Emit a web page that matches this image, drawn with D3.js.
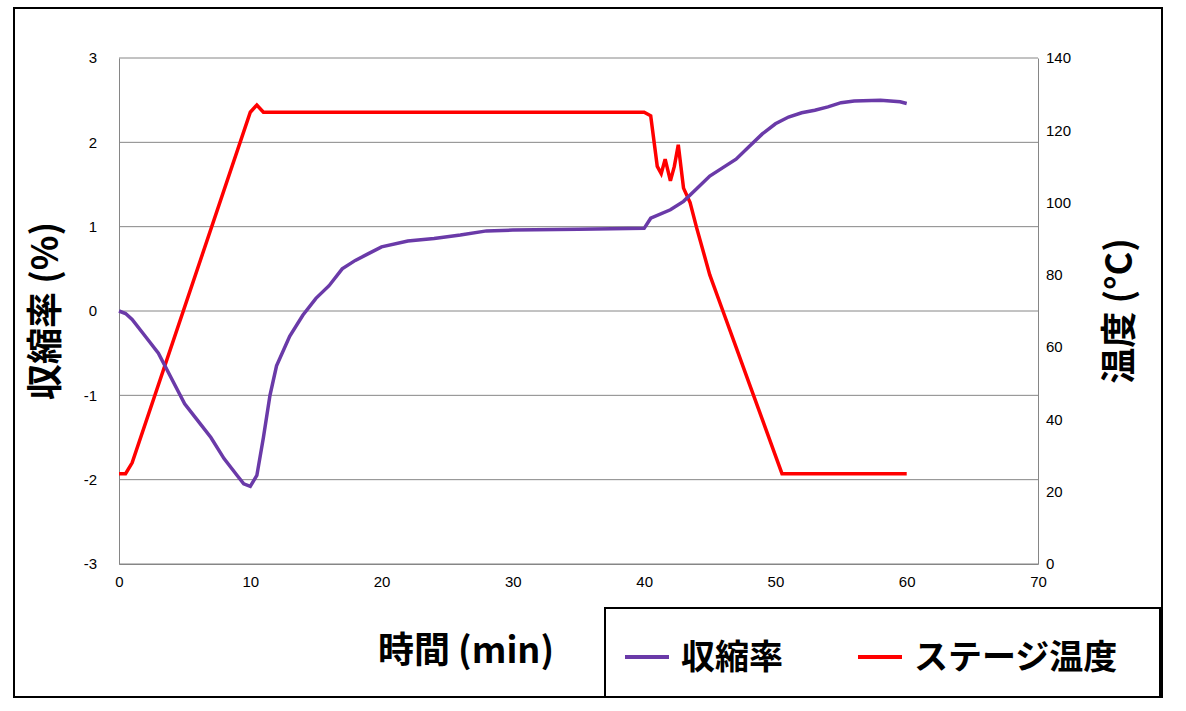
<!DOCTYPE html>
<html><head><meta charset="utf-8">
<script src="https://cdn.jsdelivr.net/npm/d3@7"></script>
<style>body{margin:0;background:#fff}svg{font-family:"Noto Sans CJK JP",Arial,sans-serif}</style>
</head><body><svg id="c" width="1186" height="711"></svg>
<script>
const xTicks = [0,10,20,30,40,50,60,70];
const yLeftTicks = [-3,-2,-1,0,1,2,3];
const yRightTicks = [0,20,40,60,80,100,120,140];

const shrinkT = [0,0.5,1,2,3,4,5,6,7,8,9,9.5,10,10.5,11,11.5,12,13,14,15,16,17,18,19,20,22,24,26,28,30,35,40,40.5,42,43,44,45,46,47,48,49,50,51,52,53,54,55,56,58,59.5,60];
const shrinkV = [0,-0.03,-0.1,-0.3,-0.5,-0.8,-1.1,-1.3,-1.5,-1.75,-1.95,-2.05,-2.08,-1.95,-1.5,-1.0,-0.65,-0.3,-0.05,0.15,0.3,0.5,0.6,0.68,0.76,0.83,0.86,0.9,0.95,0.96,0.97,0.98,1.1,1.2,1.3,1.45,1.6,1.7,1.8,1.95,2.1,2.22,2.3,2.35,2.38,2.42,2.47,2.49,2.5,2.48,2.46];

const tempT = [0,0.5,1,10,10.5,11,40,40.5,41,41.3,41.6,42,42.3,42.6,43,43.5,44,45,46,47,48,49,50,50.5,51,60];
const tempV = [25,25,28,125,127,125,125,124,110,108,112,106,110,116,104,100,93,80,70,60,50,40,30,25,25,25];

const svg = d3.select('#c');
svg.append('rect').attr('x',14).attr('y',8).attr('width',1148).attr('height',689).attr('fill','none').attr('stroke','#000').attr('stroke-width',2);

const x = d3.scaleLinear().domain([0,70]).range([119,1038]);
const yL = d3.scaleLinear().domain([-3,3]).range([564,58]);
const yR = d3.scaleLinear().domain([0,140]).range([564,58]);

// gridlines
svg.append('g').selectAll('line').data(yLeftTicks).join('line')
  .attr('x1',119).attr('x2',1038).attr('y1',d=>yL(d)).attr('y2',d=>yL(d))
  .attr('stroke','#868686').attr('stroke-width',1);

const fmt = d=>String(d);
const ax = svg.append('g').attr('transform','translate(0,564)').call(d3.axisBottom(x).tickValues(xTicks).tickFormat(fmt).tickSize(0).tickPadding(12));
const al = svg.append('g').attr('transform','translate(119,0)').call(d3.axisLeft(yL).tickValues(yLeftTicks).tickFormat(fmt).tickSize(0).tickPadding(22));
const ar = svg.append('g').attr('transform','translate(1038,0)').call(d3.axisRight(yR).tickValues(yRightTicks).tickFormat(fmt).tickSize(0).tickPadding(8));
[ax,al,ar].forEach(a=>{a.selectAll('text').attr('font-size',15).attr('fill','#000').attr('font-family','Arial,sans-serif');
  a.select('.domain').attr('stroke','#868686');});

const line = (xs,ys,yScale)=>d3.line().x((d,i)=>x(xs[i])).y((d,i)=>yScale(ys[i]));
svg.append('path').datum(tempV).attr('d',line(tempT,tempV,yR)).attr('fill','none').attr('stroke','#ff0000').attr('stroke-width',3.5);
svg.append('path').datum(shrinkV).attr('d',line(shrinkT,shrinkV,yL)).attr('fill','none').attr('stroke','#6a3aa8').attr('stroke-width',3.5);

svg.append('text').attr('x',466).attr('y',663).attr('text-anchor','middle').attr('font-size',36).attr('font-weight','bold').text('時間 (min)');
svg.append('text').attr('transform','translate(58,311) rotate(-90)').attr('text-anchor','middle').attr('font-size',36).attr('font-weight','bold').text('収縮率 (%)');
svg.append('text').attr('transform','translate(1132,311) rotate(-90)').attr('text-anchor','middle').attr('font-size',36).attr('font-weight','bold').text('温度 (°C)');

// legend
const lg = svg.append('g');
lg.append('rect').attr('x',605).attr('y',608).attr('width',555).attr('height',89).attr('fill','#fff').attr('stroke','#000').attr('stroke-width',2);
const items = [{name:'収縮率',color:'#6a3aa8',x:625},{name:'ステージ温度',color:'#ff0000',x:858}];
items.forEach(it=>{
  lg.append('line').attr('x1',it.x).attr('x2',it.x+44).attr('y1',657).attr('y2',657).attr('stroke',it.color).attr('stroke-width',4);
  lg.append('text').attr('x',it.x+56).attr('y',669).attr('font-size',34).attr('font-weight','bold').text(it.name);
});
</script></body></html>
